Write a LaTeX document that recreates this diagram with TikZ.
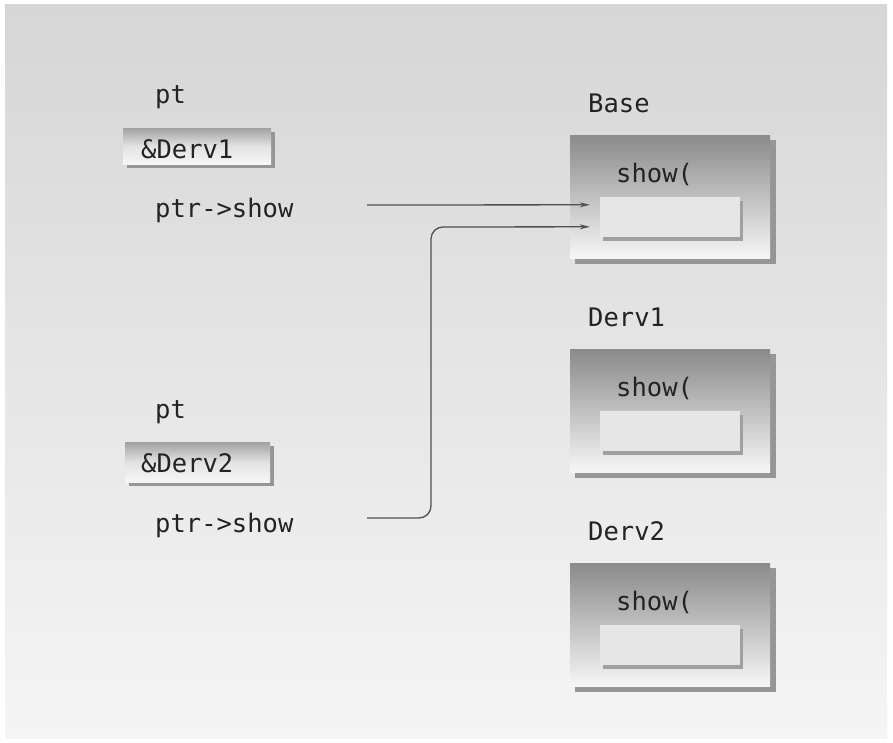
\documentclass[tikz,border=0pt]{standalone}
\usepackage{fontspec}
\setmainfont{DejaVu Sans Mono}
\usetikzlibrary{arrows.meta}
\definecolor{bgtop}{RGB}{214,214,214}
\definecolor{bgbot}{RGB}{245,245,245}
\definecolor{boxtop}{RGB}{138,138,138}
\definecolor{boxmid}{RGB}{200,200,200}
\definecolor{boxbot}{RGB}{246,246,246}
\definecolor{shad}{RGB}{150,150,150}
\definecolor{inner}{RGB}{230,230,230}
\definecolor{txt}{RGB}{35,35,35}
\definecolor{arrc}{RGB}{80,80,80}
\tikzset{
  lbl/.style={anchor=base west, inner sep=0pt, text=txt, font=\fontsize{25.5}{29}\selectfont},
  arr/.style={draw=arrc, line width=1.3pt, -{Stealth[length=10pt,width=5pt]}},
}
\begin{document}
\begin{tikzpicture}[x=1pt,y=-1pt]
\useasboundingbox (0,0) rectangle (893,742);
\fill[white] (0,0) rectangle (893,742);
\shade[top color=bgtop, bottom color=bgbot] (5,4) rectangle (887,738);

% left side: two pointer blocks
\node[lbl] (pt1) at (155,103) {pt};
\fill[shad] (127,132) rectangle (275,168);
\shade[top color=boxtop!80, bottom color=boxbot, middle color=boxbot!92!black] (123,128) rectangle (271,164);
\node[lbl] (d1) at (141,158) {\&Derv1};
\node[lbl] (ps1) at (155,217) {ptr->show};

\node[lbl] (pt2) at (155,418) {pt};
\fill[shad] (129,446) rectangle (274,486);
\shade[top color=boxtop!80, bottom color=boxbot, middle color=boxbot!92!black] (125,442) rectangle (270,482);
\node[lbl] (d2) at (141,472) {\&Derv2};
\node[lbl] (ps2) at (155,532) {ptr->show};

% right side: three class blocks
\foreach \name/\lab/\y in {base/Base/135, dva/Derv1/349, dvb/Derv2/563}{
  \node[lbl] (\name lab) at (588,\y-23) {\lab};
  \fill[shad] (575,\y+5) rectangle (776,\y+129);
  \shade[top color=boxtop, middle color=boxmid, bottom color=boxbot] (570,\y) rectangle (770,\y+123);
  \node[lbl] (\name show) at (616,\y+47) {show(};
  \fill[shad!90] (603,\y+66) rectangle (743,\y+106);
  \fill[inner] (600,\y+62) rectangle (740,\y+102);
  \node[inner sep=0pt, minimum width=140pt, minimum height=40pt] (\name inner) at (670,\y+82) {};
}

% connectors
\coordinate (a1s) at (367,205);
\coordinate (a1e) at ([xshift=-10pt,yshift=-8pt]baseinner.north west);
\draw[arr] (a1s) -- (a1e);
\coordinate (a2s) at (367,518);
\coordinate (a2m) at (431,227);
\coordinate (a2e) at ([xshift=-10pt,yshift=-30pt]baseinner.north west);
\draw[arr, rounded corners=12pt] (a2s) -| (a2m) -- (a2e);
\end{tikzpicture}
\end{document}
